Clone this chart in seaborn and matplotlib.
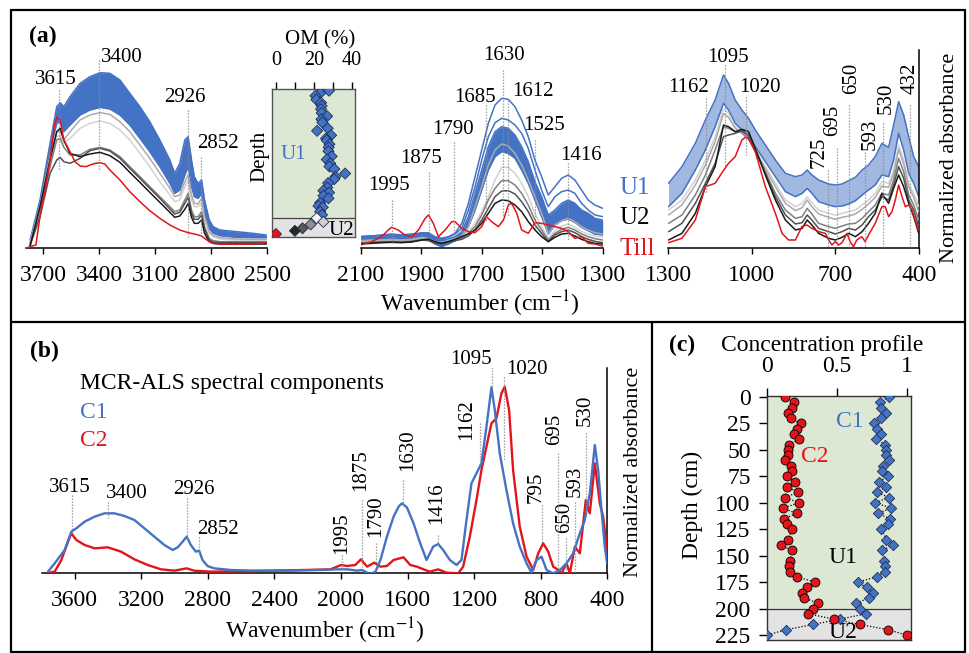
import matplotlib
matplotlib.use("Agg")
import matplotlib.pyplot as plt
from matplotlib.lines import Line2D
import seaborn as sns

# ---------------- data ----------------
# (a) FTIR spectra, normalized absorbance in plot units (axis height = 594)
wn_a1 = [3771, 3718, 3664, 3628, 3610, 3590, 3557, 3503, 3450, 3396, 3343, 3289, 3236, 3182, 3129, 3075,
         3021, 2995, 2968, 2941, 2923, 2905, 2890, 2870, 2851, 2835, 2810, 2789, 2753, 2664, 2575, 2503]
a1_u1_hi = [24, 144, 314, 424, 436, 424, 454, 494, 514, 526, 524, 504, 464, 424, 379, 324,
            264, 224, 254, 324, 334, 264, 214, 194, 204, 144, 84, 64, 54, 49, 44, 39]
a1_u1_lo = [12, 134, 294, 374, 379, 349, 369, 399, 414, 422, 417, 399, 369, 329, 289, 244,
            194, 164, 174, 219, 244, 184, 154, 149, 164, 104, 59, 44, 37, 32, 31, 31]
a1_u2_lg = [14, 124, 264, 334, 339, 314, 329, 359, 374, 381, 374, 354, 324, 284, 244, 199,
            159, 139, 144, 184, 204, 144, 124, 124, 134, 84, 44, 34, 27, 24, 24, 24]
a1_u2_silver = [14, 129, 274, 349, 352, 324, 349, 384, 399, 406, 401, 379, 349, 309, 269, 224,
                179, 154, 159, 199, 219, 159, 134, 132, 149, 94, 49, 37, 31, 27, 26, 26]
a1_u2_gray = [9, 114, 244, 324, 329, 302, 279, 279, 296, 302, 294, 274, 244, 214, 184, 154,
              124, 109, 114, 144, 164, 114, 94, 94, 109, 64, 29, 22, 19, 19, 19, 19]
a1_u2_dim = [8, 94, 224, 264, 272, 259, 254, 269, 292, 299, 291, 269, 239, 209, 179, 149,
             117, 102, 107, 134, 152, 104, 86, 86, 99, 56, 24, 18, 16, 16, 16, 16]
a1_u2_black = [6, 124, 264, 349, 359, 324, 284, 274, 282, 287, 277, 257, 227, 197, 167, 137,
               107, 92, 96, 116, 134, 92, 74, 74, 84, 44, 19, 14, 12, 12, 12, 12]
wn_a1_till = [3790, 3771, 3740, 3718, 3690, 3664, 3640, 3628, 3610, 3590, 3557, 3530, 3503, 3470, 3450, 3420,
              3396, 3370, 3343, 3289, 3236, 3182, 3129, 3075, 3021, 2968, 2923, 2890, 2851, 2835, 2810, 2789,
              2753, 2664, 2575, 2503]
a1_till = [0, 4, 9, 94, 174, 264, 369, 392, 384, 324, 289, 259, 246, 244, 249, 254,
           256, 252, 234, 204, 169, 139, 112, 89, 69, 54, 46, 42, 36, 29, 19, 14,
           12, 11, 12, 16]

wn_a2 = [2100, 2063, 2031, 1998, 1965, 1932, 1898, 1876, 1855, 1833, 1810, 1788, 1766, 1744, 1722, 1700, 1678,
         1656, 1634, 1612, 1590, 1568, 1546, 1524, 1502, 1480, 1458, 1436, 1414, 1392, 1370, 1348, 1326, 1300]
a2_u1_top = [34, 36, 39, 42, 39, 42, 44, 46, 34, 29, 34, 44, 74, 134, 214, 294, 374,
             429, 449, 446, 424, 384, 334, 264, 214, 159, 184, 209, 219, 204, 174, 144, 129, 119]
a2_u1_2nd = [34, 36, 38, 40, 38, 40, 44, 44, 32, 28, 32, 42, 59, 114, 184, 264, 334,
             376, 389, 384, 369, 344, 299, 234, 174, 124, 154, 169, 174, 164, 134, 114, 99, 94]
a2_u1_hi = [34, 36, 37, 39, 37, 39, 46, 44, 29, 26, 27, 34, 49, 94, 164, 234, 304,
            349, 364, 359, 339, 304, 259, 199, 154, 99, 114, 134, 144, 134, 114, 104, 89, 84]
a2_u1_lo = [24, 26, 27, 28, 27, 28, 34, 29, 12, 4, 12, 22, 34, 64, 114, 174, 234,
            274, 289, 284, 269, 234, 194, 144, 94, 42, 69, 82, 87, 77, 62, 52, 42, 39]
a2_u2_lg = [19, 21, 22, 24, 22, 24, 29, 27, 19, 16, 22, 27, 34, 49, 74, 109, 154,
            204, 242, 242, 224, 194, 154, 104, 64, 29, 52, 66, 72, 62, 49, 42, 36, 32]
a2_u2_silver = [22, 24, 24, 26, 24, 26, 32, 29, 19, 16, 22, 28, 36, 64, 124, 184, 249,
                294, 312, 306, 284, 249, 204, 154, 104, 44, 69, 82, 89, 79, 64, 54, 46, 42]
a2_u2_gray = [16, 18, 19, 20, 19, 21, 26, 24, 16, 14, 19, 24, 29, 44, 64, 99, 144,
              179, 202, 202, 189, 164, 129, 84, 54, 24, 44, 56, 62, 54, 42, 34, 28, 24]
a2_u2_dim = [14, 16, 17, 18, 17, 19, 24, 22, 14, 12, 19, 22, 26, 36, 54, 84, 119,
             154, 171, 172, 162, 139, 109, 69, 44, 19, 39, 49, 54, 46, 34, 26, 20, 16]
a2_u2_black = [12, 14, 16, 17, 16, 18, 24, 27, 19, 14, 19, 26, 34, 42, 54, 74, 104,
               134, 144, 142, 129, 109, 79, 54, 34, 19, 32, 42, 44, 36, 26, 19, 14, 12]
wn_a2_till = [2100, 2064, 2031, 2009, 1998, 1976, 1954, 1931, 1909, 1887, 1876, 1860, 1843, 1821, 1799, 1788,
              1766, 1744, 1722, 1700, 1684, 1667, 1645, 1628, 1612, 1601, 1584, 1568, 1546, 1524, 1502, 1480,
              1458, 1436, 1414, 1392, 1370, 1348, 1326, 1300]
a2_till = [9, 19, 34, 54, 62, 54, 39, 34, 54, 89, 99, 74, 34, 54, 79, 79,
           59, 49, 46, 64, 94, 79, 64, 84, 129, 134, 104, 54, 44, 76, 74, 69,
           64, 59, 49, 29, 34, 14, 12, 6]

wn_a3 = [1298, 1250, 1202, 1166, 1131, 1101, 1083, 1059, 1035, 1011, 987, 951, 915, 879, 843, 819, 801, 784,
         760, 724, 700, 676, 652, 628, 604, 581, 557, 533, 509, 491, 473, 455, 437, 419, 401]
a3_u1_hi = [194, 244, 314, 384, 444, 519, 494, 444, 414, 389, 354, 309, 264, 224, 214, 219, 234, 219,
            204, 192, 189, 192, 202, 212, 234, 249, 274, 314, 302, 369, 439, 399, 334, 274, 244]
a3_u1_lo = [124, 164, 234, 294, 364, 434, 414, 374, 354, 334, 304, 259, 214, 169, 154, 164, 179, 164,
            139, 129, 124, 126, 132, 142, 159, 174, 189, 219, 214, 264, 344, 294, 224, 194, 154]
a3_u2_lg = [114, 144, 204, 264, 334, 419, 404, 364, 344, 324, 294, 244, 194, 144, 124, 134, 154, 136,
            114, 104, 99, 104, 109, 114, 129, 144, 164, 199, 194, 234, 309, 264, 194, 164, 124]
a3_u2_silver = [99, 129, 189, 249, 319, 404, 392, 359, 344, 326, 292, 239, 184, 134, 112, 121, 144, 124,
                102, 92, 86, 92, 96, 102, 116, 132, 152, 186, 182, 222, 296, 252, 184, 152, 109]
a3_u2_gray = [74, 99, 159, 219, 294, 364, 359, 349, 349, 329, 289, 229, 164, 114, 89, 94, 119, 102,
              74, 64, 59, 66, 72, 74, 89, 109, 129, 164, 159, 204, 269, 229, 159, 129, 84]
a3_u2_dim = [49, 74, 134, 194, 254, 334, 339, 344, 352, 339, 294, 224, 154, 99, 72, 76, 99, 84,
             59, 49, 42, 49, 59, 54, 69, 94, 114, 154, 144, 189, 244, 209, 144, 114, 64]
a3_u2_black = [24, 44, 104, 184, 244, 369, 364, 349, 356, 349, 299, 219, 144, 84, 54, 59, 84, 69,
               44, 29, 24, 32, 44, 34, 49, 74, 104, 164, 134, 179, 219, 184, 134, 94, 44]
wn_a3_till = [1298, 1250, 1202, 1166, 1131, 1100, 1083, 1059, 1035, 1023, 1011, 987, 951, 915, 891, 868,
              843, 820, 802, 784, 760, 736, 724, 712, 700, 688, 676, 658, 647, 635, 623, 605,
              593, 581, 557, 533, 521, 509, 497, 485, 473, 461, 449, 437, 425, 414, 402]
a3_till = [16, 29, 84, 184, 194, 234, 254, 274, 324, 332, 329, 289, 184, 104, 44, 24,
           24, 64, 69, 59, 49, 44, 24, 9, 19, 9, 16, 44, 19, 4, 24, 34,
           19, 39, 74, 124, 124, 94, 109, 144, 189, 154, 124, 129, 114, 84, 54]

# OM (%) profile, inset of (a)
om_depth = [0, 4, 8, 14, 19, 24, 29, 35, 40, 45, 50, 59, 63, 70, 75, 78, 84, 89, 95, 103, 108, 114,
            119, 123, 130, 135, 139, 145, 152, 157, 160, 165, 169, 176, 181, 183, 190, 195,
            200, 206, 210, 216, 220, 225]
om_val = [28.0, 23.3, 20.8, 21.3, 23.8, 24.1, 23.8, 24.1, 27.0, 24.0, 24.5, 27.3, 21.7, 29.1, 26.4, 26.8,
          28.2, 27.8, 27.7, 29.4, 26.8, 28.6, 28.2, 30.8, 36.5, 31.4, 30.7, 27.5, 27.1, 25.0, 28.0, 25.0,
          27.7, 23.3, 22.4, 24.7, 23.3, 24.3, 21.5, 25.0, 18.3, 14.0, 10.0, 0.0]
om_sample = ["U1"] * 38 + ["U2a", "U2b", "U2c", "U2d", "U2e", "Till"]

# (b) MCR-ALS spectral components (axis height = 615)
wn_c1 = [3760, 3720, 3660, 3620, 3590, 3540, 3480, 3421, 3361, 3301, 3241, 3181, 3121, 3061, 3011, 2981,
         2951, 2927, 2902, 2872, 2852, 2832, 2802, 2762, 2661, 2522, 2322, 2123, 2023, 1963, 1903, 1873,
         1843, 1823, 1793, 1763, 1724, 1684, 1654, 1634, 1604, 1564, 1524, 1486, 1446, 1416, 1386, 1346,
         1306, 1276, 1246, 1216, 1186, 1156, 1126, 1096, 1076, 1046, 1006, 966, 926, 885, 855, 825,
         795, 765, 725, 685, 645, 605, 565, 535, 505, 475, 455, 435, 415, 401]
c1_spec = [4, 29, 69, 124, 134, 154, 169, 179, 179, 171, 159, 134, 109, 84, 69, 77,
           94, 109, 84, 64, 67, 39, 21, 14, 9, 7, 7, 9, 11, 11, 7, 9,
           1, -3, 4, 39, 109, 169, 199, 209, 197, 149, 89, 39, 79, 87, 69, 39,
           24, 39, 159, 269, 299, 329, 439, 557, 489, 359, 249, 149, 79, 29, 1, 39,
           49, 9, -1, 9, 29, 59, 119, 159, 239, 384, 309, 189, 79, 29]
wn_c2 = [3760, 3720, 3680, 3640, 3620, 3590, 3540, 3480, 3401, 3321, 3241, 3161, 3081, 3001, 2927, 2882,
         2782, 2522, 2223, 2063, 1999, 1963, 1914, 1880, 1843, 1800, 1763, 1724, 1684, 1624, 1584, 1544,
         1504, 1466, 1416, 1366, 1296, 1266, 1226, 1186, 1156, 1126, 1096, 1066, 1036, 1016, 990, 966,
         926, 885, 845, 815, 785, 755, 725, 695, 675, 645, 625, 595, 565, 529, 505, 475, 445, 425, 401]
c2_spec = [0, 4, 39, 94, 119, 99, 84, 74, 77, 64, 41, 24, 11, 7, 14, 7,
           4, 6, 9, 11, 24, 21, 24, 41, 19, 31, 19, 21, 39, 47, 24, 19,
           11, 4, 11, 1, -1, 19, 109, 219, 309, 379, 449, 464, 539, 559, 489, 309,
           139, 49, 9, 59, 89, 64, 19, 9, -1, 29, -1, 79, 59, 219, 179, 329, 209, 169, 69]

# (c) concentration profiles
depth_c = [0, 5, 10, 15, 20, 25, 30, 35, 40, 45, 50, 55, 60, 65, 70, 75, 80, 85, 90, 95, 100, 105,
           110, 115, 120, 125, 135, 140, 145, 155, 160, 165, 170, 175, 180, 185, 190, 195, 200, 205,
           210, 215, 220, 225]
conc_c1 = [0.873, 0.813, 0.82, 0.85, 0.82, 0.765, 0.79, 0.82, 0.778, 0.845, 0.85, 0.856, 0.876, 0.833,
           0.825, 0.866, 0.80, 0.856, 0.785, 0.876, 0.773, 0.892, 0.792, 0.88, 0.864, 0.82, 0.856, 0.90,
           0.825, 0.837, 0.847, 0.845, 0.785, 0.648, 0.713, 0.756, 0.732, 0.634, 0.665, 0.706, 0.52,
           0.33, 0.134, 0.0]
conc_c2 = [0.13, 0.19, 0.18, 0.15, 0.17, 0.24, 0.215, 0.19, 0.225, 0.155, 0.15, 0.146, 0.13, 0.17,
           0.175, 0.14, 0.20, 0.145, 0.22, 0.127, 0.23, 0.11, 0.21, 0.12, 0.14, 0.18, 0.146, 0.096,
           0.177, 0.163, 0.158, 0.16, 0.21, 0.345, 0.287, 0.246, 0.265, 0.366, 0.33, 0.294, 0.48,
           0.665, 0.868, 1.0]

# ---------------- style ----------------
sns.set_theme(style="white")
plt.rcParams["font.family"] = ["Liberation Serif", "DejaVu Serif"]
plt.rcParams["mathtext.fontset"] = "stix"
for k in ["text.color", "axes.labelcolor", "xtick.color", "ytick.color", "axes.edgecolor"]:
    plt.rcParams[k] = "black"

W, H = 969, 653
BLUE = "#4472c4"
RED = "#e3141b"
GRAYS = {"lg": "#d2d2d2", "silver": "#ababab", "gray": "#808080", "dim": "#505050", "black": "#1a1a1a"}
GREEN = "#dce8d3"
GREYBG = "#e3e3e3"
DOT = "#8a8a8a"
TICK_FS = 17
PEAK_FS = 15

fig = plt.figure(figsize=(W / 100, H / 100), dpi=100)


def box(l, t, r, b):
    return fig.add_axes([l / W, 1 - b / H, (r - l) / W, (b - t) / H])


def ftext(x, y, s, **kw):
    kw.setdefault("ha", "center")
    kw.setdefault("va", "center")
    fig.text(x / W, 1 - y / H, s, **kw)


def line(ax, x, y, color, lw=1.0, z=3):
    sns.lineplot(x=x, y=y, ax=ax, color=color, linewidth=lw, sort=False, estimator=None, zorder=z)


def peaks(ax, marks, fs=PEAK_FS):
    for x0, y0, y1, lab, tx, ty, rot in marks:
        ax.plot([x0, x0], [y0, y1], ls=(0, (1, 1.4)), color=DOT, lw=0.9, zorder=6)
        ax.text(tx, ty, lab, ha="center", va="center", rotation=rot, fontsize=fs, clip_on=False)


def spec_axes(ax, xlim, ticks, ytop, right=False):
    ax.set_xlim(*xlim)
    ax.set_ylim(0, ytop)
    ax.set_yticks([])
    ax.set_xticks(ticks)
    ax.set_xticklabels([str(t) for t in ticks])
    for s in ["top", "left"]:
        ax.spines[s].set_visible(False)
    ax.spines["right"].set_visible(right)
    ax.spines["bottom"].set_linewidth(1.1)
    ax.spines["right"].set_linewidth(1.1)
    ax.tick_params(axis="x", bottom=True, direction="out", length=4, width=1,
                   labelsize=TICK_FS, pad=8)
    ax.set_xlabel("")
    ax.set_ylabel("")


def draw_section(ax, wn, hi, lo, u2, till_wn, till, band_alpha=1.0, extra=()):
    ax.fill_between(wn, lo, hi, color=BLUE, lw=0, alpha=band_alpha, zorder=2)
    line(ax, wn, hi, BLUE, 1.1, 2)
    line(ax, wn, lo, BLUE, 1.1, 2)
    for ys in extra:
        line(ax, wn, ys, BLUE, 1.1, 2)
    for key, ys in u2:
        line(ax, wn, ys, GRAYS[key], 1.1, 3)
    line(ax, till_wn, till, RED, 1.1, 4)


# ---------------- panel (a) ----------------
ax1 = box(26, 50, 267, 248)
draw_section(ax1, wn_a1, a1_u1_hi, a1_u1_lo,
             [("lg", a1_u2_lg), ("silver", a1_u2_silver), ("gray", a1_u2_gray),
              ("dim", a1_u2_dim), ("black", a1_u2_black)],
             wn_a1_till, a1_till)
spec_axes(ax1, (3793, 2500), [3700, 3400, 3100, 2800, 2500], 594)
peaks(ax1, [(3615, 474, 234, "3615", 3632, 504, 0), (3400, 564, 234, "3400", 3277, 573, 0),
            (2926, 414, 34, "2926", 2941, 453, 0), (2852, 274, 30, "2852", 2764, 315, 0)])

ax2 = box(360.7, 50, 602.7, 248)
draw_section(ax2, wn_a2, a2_u1_hi, a2_u1_lo,
             [("lg", a2_u2_lg), ("silver", a2_u2_silver), ("gray", a2_u2_gray),
              ("dim", a2_u2_dim), ("black", a2_u2_black)],
             wn_a2_till, a2_till, extra=(a2_u1_top, a2_u1_2nd))
spec_axes(ax2, (2100, 1300), [2100, 1900, 1700, 1500, 1300], 594)
peaks(ax2, [(1995, 143, 15, "1995", 2008, 189, 0), (1875, 228, 45, "1875", 1901, 269, 0),
            (1790, 319, 45, "1790", 1795, 354, 0), (1685, 429, 77, "1685", 1722, 453, 0),
            (1630, 535, 94, "1630", 1626, 579, 0), (1612, 444, 94, "1612", 1530, 468, 0),
            (1525, 324, 53, "1525", 1494, 369, 0), (1416, 254, 24, "1416", 1372, 279, 0)])

ax3 = box(668, 50, 919, 248)
draw_section(ax3, wn_a3, a3_u1_hi, a3_u1_lo,
             [("lg", a3_u2_lg), ("silver", a3_u2_silver), ("gray", a3_u2_gray),
              ("dim", a3_u2_dim), ("black", a3_u2_black)],
             wn_a3_till, a3_till, band_alpha=0.5)
spec_axes(ax3, (1300, 400), [1300, 1000, 700, 400], 594, right=True)
peaks(ax3, [(1162, 450, 165, "1162", 1227, 483, 0), (1095, 549, 244, "1095", 1085, 573, 0),
            (1020, 453, 279, "1020", 970, 483, 0), (725, 234, 3, "725", 757, 288, 90),
            (695, 300, 3, "695", 711, 384, 90), (650, 429, 3, "650", 642, 509, 90),
            (593, 288, 3, "593", 576, 342, 90), (530, 374, 3, "530", 516, 450, 90),
            (432, 429, 3, "432", 433, 509, 90)])

# OM inset
axo = box(272, 89, 355, 237)
axo.axhspan(-2.7, 200, color=GREEN, zorder=0)
axo.axhspan(200, 229.7, color=GREYBG, zorder=0)
axo.axhline(200, color="#444444", lw=0.9, zorder=1)
om_pal = {"U1": BLUE, "U2a": "#f4f4f4", "U2b": "#cfcfcf", "U2c": "#8f8f8f", "U2d": "#585858",
          "U2e": "#262626", "Till": RED}
sns.scatterplot(x=om_val, y=om_depth, hue=om_sample, palette=om_pal, marker="D", s=32,
                edgecolor="#1e2f55", linewidth=0.6, legend=False, ax=axo, zorder=3)
axo.set_xlim(-2.1, 41.7)
axo.set_ylim(229.7, -2.7)
axo.xaxis.tick_top()
axo.set_xticks([0, 10, 20, 30, 40])
axo.set_xticklabels(["0", "", "20", "", "40"])
axo.set_yticks([])
axo.tick_params(axis="x", top=True, bottom=False, direction="out", length=5, width=1,
                labelsize=14.5, pad=9)
for s in axo.spines.values():
    s.set_color("#555555")
    s.set_linewidth(1)
axo.set_xlabel("")
axo.set_ylabel("")
axo.text(9, 100, "U1", color=BLUE, fontsize=15, ha="center", va="center")
axo.text(34.5, 219, "U2", color="black", fontsize=15, ha="center", va="center")
ftext(320, 40, "OM (%)", fontsize=15)
ftext(260, 156, "Depth", fontsize=15, rotation=90)

ftext(43, 36, "(a)", fontsize=17, fontweight="bold")
ftext(480, 304, "Wavenumber (cm$^{-1}$)", fontsize=17)
ftext(949, 158, "Normalized absorbance", fontsize=16, rotation=90)
ftext(619, 188, "U1", color=BLUE, fontsize=18, ha="left")
ftext(619, 218, "U2", color="black", fontsize=18, ha="left")
ftext(619, 249, "Till", color=RED, fontsize=18, ha="left")

# ---------------- panel (b) ----------------
axb = box(41.7, 368, 607.3, 573)
line(axb, wn_c2, c2_spec, RED, 1.7, 3)
line(axb, wn_c1, c1_spec, BLUE, 1.7, 4)
spec_axes(axb, (3798, 400), [3600, 3200, 2800, 2400, 2000, 1600, 1200, 800, 400], 615, right=True)
peaks(axb, [(3615, 234, 120, "3615", 3631, 255, 0), (3400, 214, 165, "3400", 3287, 240, 0),
            (2926, 224, 98, "2926", 2885, 249, 0), (2852, 109, 54, "2852", 2741, 129, 0),
            (1995, 54, 15, "1995", 1993, 120, 90), (1875, 219, 18, "1875", 1881, 309, 90),
            (1790, 90, 30, "1790", 1792, 169, 90), (1630, 279, 197, "1630", 1602, 367, 90),
            (1416, 114, 79, "1416", 1423, 209, 90), (1162, 449, 338, "1162", 1246, 459, 90),
            (1095, 619, 547, "1095", 1220, 640, 0), (1020, 589, 338, "1020", 885, 609, 0),
            (795, 203, 90, "795", 825, 258, 90), (695, 360, 0, "695", 715, 431, 90),
            (650, 105, 0, "650", 655, 168, 90), (593, 214, 0, "593", 595, 274, 90),
            (530, 420, 180, "530", 535, 489, 90)])
ftext(44, 351, "(b)", fontsize=17, fontweight="bold")
ftext(80, 383, "MCR-ALS spectral components", fontsize=17, ha="left")
ftext(80, 412, "C1", color=BLUE, fontsize=17, ha="left")
ftext(80, 441, "C2", color=RED, fontsize=17, ha="left")
ftext(325, 631, "Wavenumber (cm$^{-1}$)", fontsize=17)
ftext(634, 472, "Normalized absorbance", fontsize=16, rotation=90)

# ---------------- panel (c) ----------------
axc = box(767.3, 396, 910.7, 640)
axc.axhspan(-0.95, 200, color=GREEN, zorder=0)
axc.axhspan(200, 229.7, color=GREYBG, zorder=0)
axc.axhline(200, color="#333333", lw=0.9, zorder=1)
sns.lineplot(x=conc_c1, y=depth_c, sort=False, estimator=None, color="black", lw=0.9,
             ls=(0, (1, 1.5)), ax=axc, zorder=2)
sns.lineplot(x=conc_c2, y=depth_c, sort=False, estimator=None, color="black", lw=0.9,
             ls=(0, (1, 1.5)), ax=axc, zorder=2)
sns.scatterplot(x=conc_c1, y=depth_c, marker="D", color=BLUE, s=28, edgecolor="#1e2f55",
                linewidth=0.6, ax=axc, zorder=3)
sns.scatterplot(x=conc_c2, y=depth_c, marker="o", color=RED, s=42, edgecolor="black",
                linewidth=0.6, ax=axc, zorder=4)
axc.set_xlim(0, 1.03)
axc.set_ylim(229.7, -0.95)
axc.xaxis.tick_top()
axc.set_xticks([0, 0.5, 1])
axc.set_xticklabels(["0", "0.5", "1"])
axc.set_yticks(list(range(0, 226, 25)))
axc.set_yticklabels([str(v) for v in range(0, 226, 25)])
axc.tick_params(axis="x", top=True, bottom=False, direction="out", length=6, width=1,
                labelsize=TICK_FS, pad=8)
axc.tick_params(axis="y", left=True, direction="out", length=6, width=1,
                labelsize=TICK_FS, pad=6)
for s in axc.spines.values():
    s.set_color("#333333")
    s.set_linewidth(1)
axc.set_xlabel("")
axc.set_ylabel("")
axc.text(0.594, 22.7, "C1", color=BLUE, fontsize=17, ha="center", va="center")
axc.text(0.341, 55.8, "C2", color=RED, fontsize=17, ha="center", va="center")
axc.text(0.544, 152, "U1", color="black", fontsize=17, ha="center", va="center")
axc.text(0.54, 223, "U2", color="black", fontsize=17, ha="center", va="center")
ftext(682, 345, "(c)", fontsize=17, fontweight="bold")
ftext(822, 345, "Concentration profile", fontsize=17)
ftext(692, 505, "Depth (cm)", fontsize=17, rotation=90)

# ---------------- panel frames ----------------
for x0, y0, x1, y1 in [(11, 10, 965, 10), (11, 10, 11, 653), (965, 10, 965, 653),
                       (11, 322, 965, 322), (652, 322, 652, 653), (11, 652, 965, 652)]:
    fig.add_artist(Line2D([x0 / W, x1 / W], [1 - y0 / H, 1 - y1 / H], color="black", lw=1.6))

fig.savefig("out.png", dpi=100)
